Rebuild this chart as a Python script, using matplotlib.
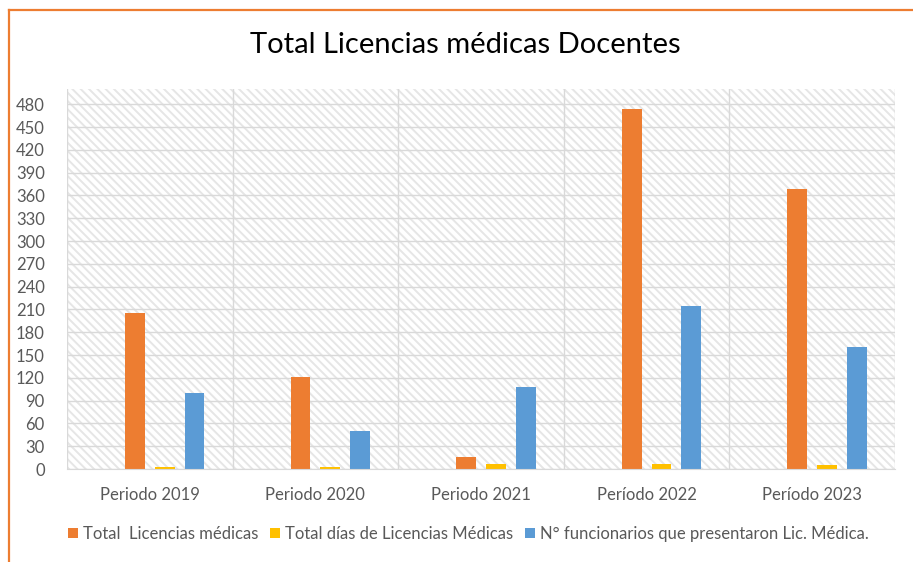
import matplotlib
matplotlib.use("Agg")
import matplotlib.pyplot as plt
from matplotlib.lines import Line2D
from matplotlib.patches import Rectangle
import numpy as np

plt.rcParams["font.family"] = ["Lato", "DejaVu Sans"]
plt.rcParams["hatch.linewidth"] = 1.4

categories = ["Periodo 2019", "Periodo 2020", "Periodo 2021", "Período 2022", "Período 2023"]
total_licencias = [205, 121, 16, 474, 368]
total_dias = [3, 3, 6, 6, 5]
funcionarios = [100, 50, 108, 214, 160]

series = [
    ("Total  Licencias médicas", total_licencias, "#ED7D31"),
    ("Total días de Licencias Médicas", total_dias, "#FFC000"),
    ("N° funcionarios que presentaron Lic. Médica.", funcionarios, "#5B9BD5"),
]
yticks = list(range(0, 481, 30))

fig = plt.figure(figsize=(9.13, 5.62), dpi=100)
ax = fig.add_axes([67 / 913, 1 - 469 / 562, (895 - 67) / 913, (469 - 89) / 562])

# hatched plot-area background
ax.add_patch(Rectangle((0, 0), 1, 1, transform=ax.transAxes, facecolor="white",
                       edgecolor="#e6e6e6", hatch="\\\\\\\\", linewidth=0, zorder=0))

x = np.arange(len(categories))
slot = 0.18
width = 0.12
# 4 slots per group, first slot empty as in the original
offsets = (np.arange(4) - 1.5) * slot
for i, (label, vals, color) in enumerate(series):
    ax.bar(x + offsets[i + 1], vals, width, color=color, label=label, zorder=3)

ax.set_xlim(-0.5, len(categories) - 0.5)
ax.set_ylim(0, 500)
ax.set_yticks(yticks)
ax.set_xticks(x)
ax.set_xticklabels(categories)
ax.set_xticks(np.arange(len(categories) + 1) - 0.5, minor=True)
ax.tick_params(axis="both", which="both", length=0, colors="#595959", labelsize=12)
ax.tick_params(axis="x", pad=13)
ax.tick_params(axis="y", pad=16)
ax.grid(axis="y", color="#d9d9d9", linewidth=1, zorder=1)
ax.grid(axis="x", which="minor", color="#d9d9d9", linewidth=1, zorder=1)
for s in ["top", "left", "right"]:
    ax.spines[s].set_visible(False)
ax.spines["bottom"].set_color("#d9d9d9")
ax.spines["bottom"].set_zorder(4)

fig.text(465 / 913, 1 - 45 / 562, "Total Licencias médicas Docentes", ha="center", va="center",
         fontsize=21, color="#000000")

fig.legend(loc="center", bbox_to_anchor=(468 / 913, 1 - 534 / 562), ncol=3, frameon=False,
           fontsize=12, handlelength=0.6, handleheight=0.6, handletextpad=0.3,
           columnspacing=0.7, labelcolor="#595959")

# orange chart frame (cropped screenshot: only top and left visible)
fig.add_artist(Line2D([9 / 913, 9 / 913], [0, 1 - 9.5 / 562], color="#ED7D31", linewidth=1.6))
fig.add_artist(Line2D([9 / 913, 1], [1 - 9.5 / 562, 1 - 9.5 / 562], color="#ED7D31", linewidth=1.6))

fig.savefig("out.png", dpi=100)
